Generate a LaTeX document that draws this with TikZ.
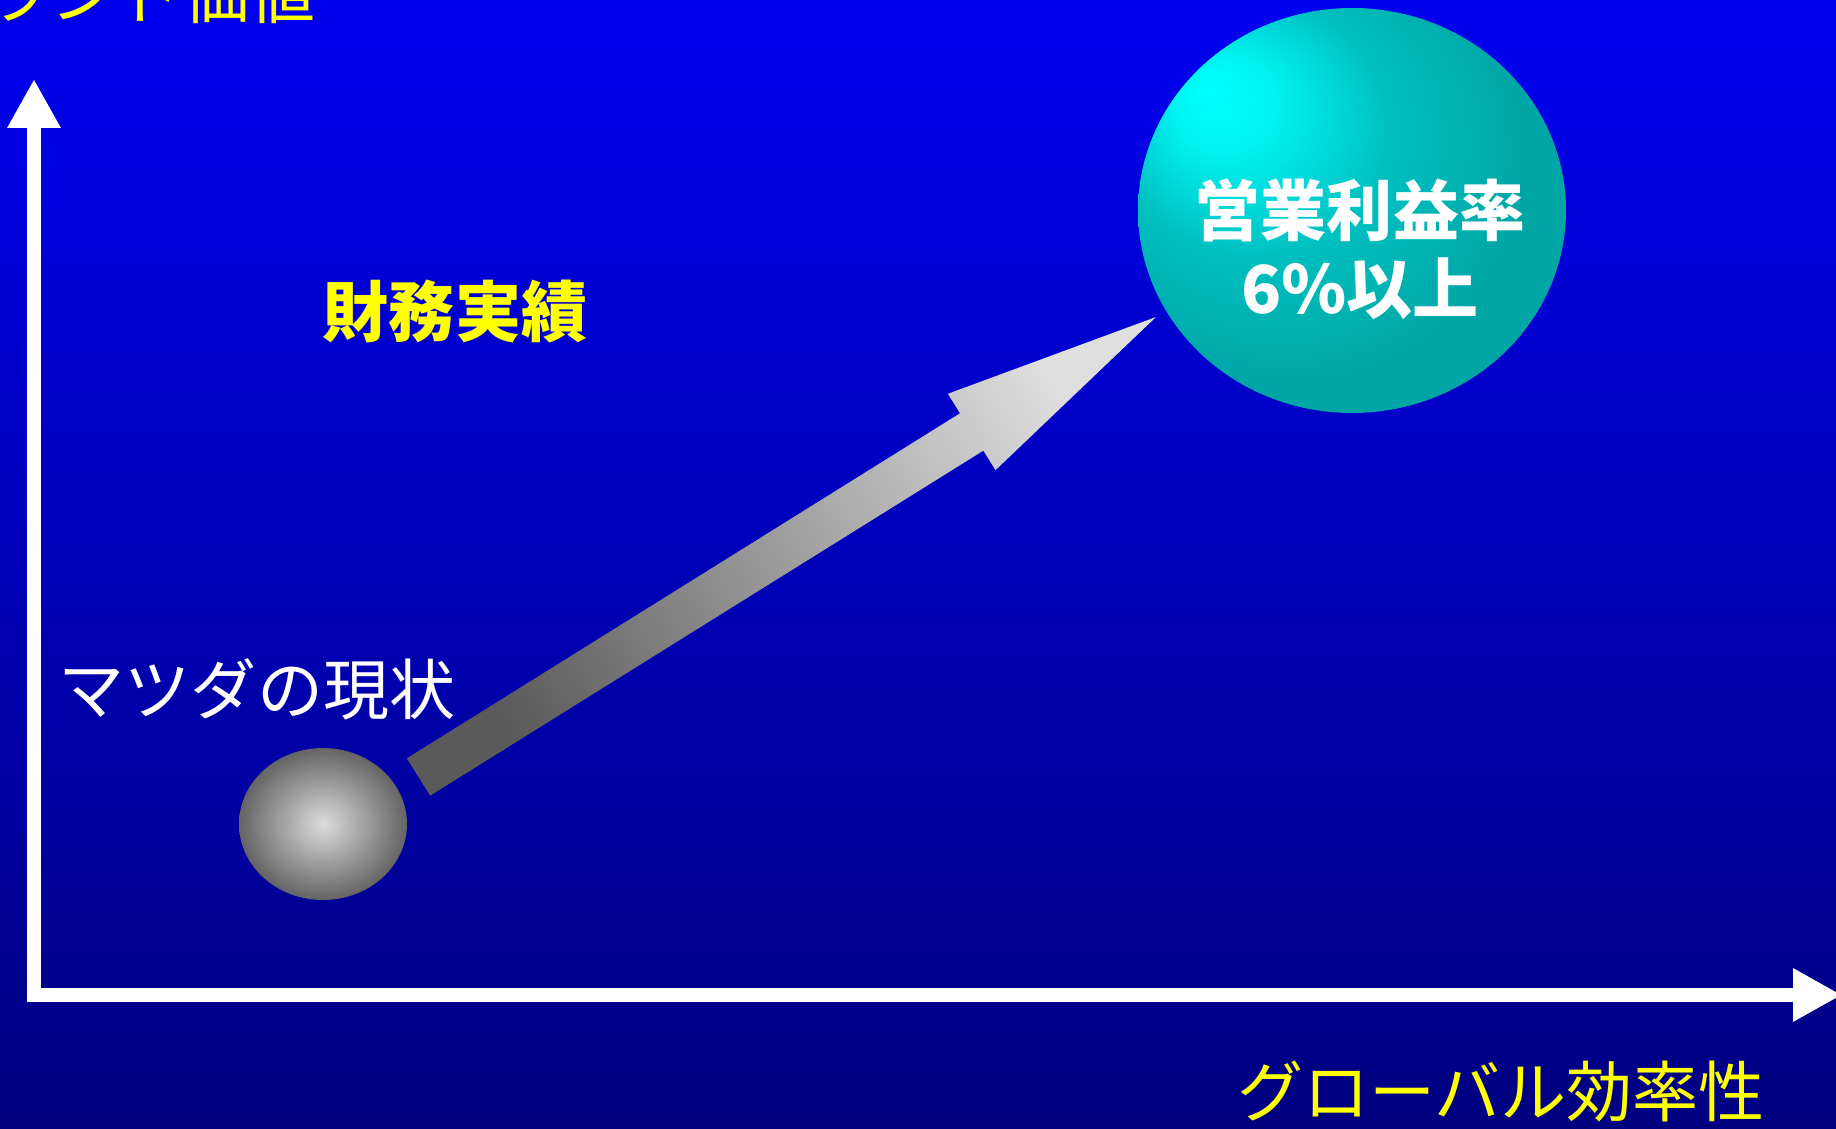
\documentclass[tikz,border=0pt]{standalone}
\usepackage{fontspec}
\setmainfont{Noto Sans CJK JP}
\usepackage{tikz}
\usetikzlibrary{arrows.meta,positioning,calc,shapes.geometric}
\pgfdeclarelayer{background}
\pgfdeclarelayer{edgelayer}
\pgfdeclarelayer{nodelayer}
\pgfsetlayers{background,edgelayer,nodelayer,main}
\definecolor{bgtop}{RGB}{0,0,240}
\definecolor{bgbottom}{RGB}{0,0,128}
\definecolor{lyellow}{RGB}{255,255,0}
\definecolor{sdark}{RGB}{100,100,100}
\definecolor{slight}{RGB}{220,220,220}
\definecolor{adark}{RGB}{90,90,90}
\definecolor{alight}{RGB}{222,222,222}
\pgfdeclareradialshading{goalshade}{\pgfpoint{-17bp}{15bp}}{rgb(0bp)=(0,1,1); rgb(6bp)=(0,0.95,0.95); rgb(16bp)=(0,0.75,0.75); rgb(28bp)=(0,0.65,0.65); rgb(50bp)=(0,0.63,0.63)}
\tikzset{font=\fontsize{18.8}{22.2}\selectfont}
\tikzstyle{axistext}=[inner sep=0pt,text=lyellow]
\tikzstyle{headtext}=[inner sep=0pt,text=lyellow,font=\fontsize{18.8}{22.2}\selectfont\bfseries]
\tikzstyle{nowtext}=[inner sep=0pt,text=white]
\tikzstyle{goaltext}=[inner sep=0pt,text=white,align=center,font=\fontsize{18.8}{22.2}\selectfont\bfseries]
\tikzstyle{now}=[ellipse,inner sep=0pt,minimum width=1.68cm,minimum height=1.52cm,inner color=slight,outer color=sdark]
\tikzstyle{goal}=[ellipse,inner sep=0pt,minimum width=4.28cm,minimum height=4.05cm,shade,shading=goalshade]
\tikzstyle{axisline}=[draw=white,line width=0.14cm,line join=miter,{Triangle[width=0.5cm,length=0.49cm]}-{Triangle[width=0.5cm,length=0.49cm]}]
\tikzstyle{bigarrow}=[bottom color=adark,top color=alight,shading angle=-58]
\begin{document}
\begin{tikzpicture}
	\useasboundingbox (0,0) rectangle (18.36,11.28);
	\begin{pgfonlayer}{background}
		\shade [top color=bgtop,bottom color=bgbottom] (0,0) rectangle (18.36,11.28);
	\end{pgfonlayer}
	\begin{pgfonlayer}{nodelayer}
		\node [style=now] (now) at (3.23,3.04) {};
		\node [style=goal] (goal) at (13.52,9.175) {};
		\node [style=goaltext] (rate) at (13.60,8.79) {営業利益率\\6\%以上};
		\node [style=nowtext] (mazda) at (2.57,4.39) {マツダの現状};
		\node [style=headtext] (results) at (4.55,8.16) {財務実績};
		\node [style=axistext,anchor=east] (brand) at (3.16,11.35) {ブランド価値};
		\node [style=axistext] (global) at (15.01,0.36) {グローバル効率性};
		\coordinate (O) at (0.34,1.33);
		\coordinate (ytip) at (0.34,10.49);
		\coordinate (xtip) at (18.42,1.33);
		\coordinate (from) at (4.185,3.51);
		\coordinate (to) at (11.56,8.11);
	\end{pgfonlayer}
	\begin{pgfonlayer}{edgelayer}
		\draw [style=axisline] (ytip) -- (O) -- (xtip);
		\shade [style=bigarrow] ($(from)!0.22cm!-90:(to)$) -- ($(from)!6.52cm!(to)!0.22cm!-90:(to)$) -- ($(from)!6.52cm!(to)!0.45cm!-90:(to)$) -- (to) -- ($(from)!6.52cm!(to)!0.45cm!90:(to)$) -- ($(from)!6.52cm!(to)!0.22cm!90:(to)$) -- ($(from)!0.22cm!90:(to)$) -- cycle;
	\end{pgfonlayer}
\end{tikzpicture}
\end{document}
